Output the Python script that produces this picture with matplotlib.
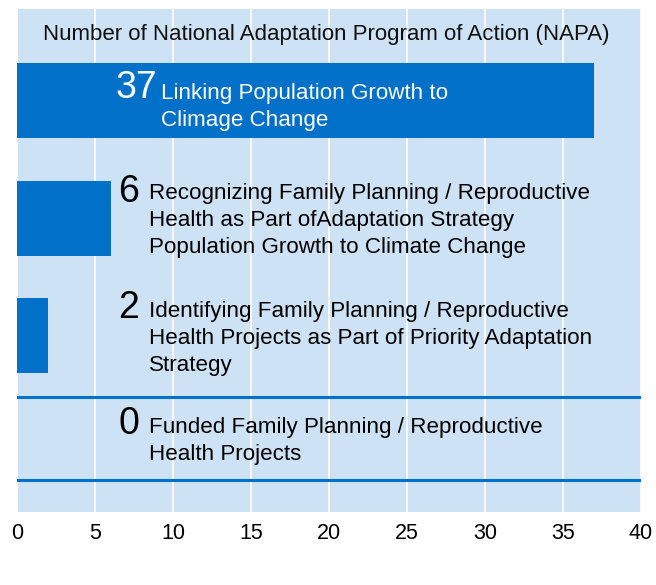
import matplotlib.pyplot as plt
import numpy as np

plt.rcParams['font.family'] = ['Liberation Sans', 'DejaVu Sans']

counts = [37, 6, 2, 0]
labels = ['Linking Population Growth to\nClimage Change',
          'Recognizing Family Planning / Reproductive\nHealth as Part ofAdaptation Strategy\nPopulation Growth to Climate Change',
          'Identifying Family Planning / Reproductive\nHealth Projects as Part of Priority Adaptation\nStrategy',
          'Funded Family Planning / Reproductive\nHealth Projects']
title = 'Number of National Adaptation Program of Action (NAPA)'
xticks = [0, 5, 10, 15, 20, 25, 30, 35, 40]

blue = '#0070c8'
bg = '#cde2f4'

fig = plt.figure(figsize=(6.56, 5.85), dpi=100)
ax = fig.add_axes([17/656, 1-512/585, 624/656, 503/585])
ax.set_facecolor(bg)

y = np.arange(len(counts))
ax.barh(y, counts, height=0.64, color=blue, zorder=2)

# lines framing the zero row
ax.axhline(2.52, color=blue, lw=2.2, zorder=3)
ax.axhline(3.23, color=blue, lw=2.2, zorder=3)

num_off = [-0.106, -0.22, -0.24, -0.25]
lab_off = [-0.064, -0.21, -0.21, -0.215]
lh = 27 / 117.5
for i, (c, lab) in enumerate(zip(counts, labels)):
    col = 'white' if c > 20 else 'black'
    xn = 8.97 if i == 0 else 7.85
    xl = 9.2 if i == 0 else 8.45
    ax.text(xn, i + num_off[i], str(c), ha='right', va='center', fontsize=27, color=col, zorder=4)
    for k, line in enumerate(lab.split('\n')):
        ax.text(xl, i + lab_off[i] + k * lh, line, ha='left', va='center', fontsize=16.1,
                color=col, zorder=4)

ax.text(19.8, -0.56, title, ha='center', va='center', fontsize=16, color='#111111', zorder=4)

ax.set_xlim(0, 40)
ax.set_ylim(3.5, -0.78)
ax.set_xticks(xticks)
ax.set_yticks([])
ax.xaxis.grid(True, color='white', lw=1.2, zorder=1)
ax.set_axisbelow(True)
ax.tick_params(axis='x', length=0, labelsize=15.5, pad=8)
for s in ax.spines.values():
    s.set_visible(False)

fig.savefig('out.png', dpi=100)
